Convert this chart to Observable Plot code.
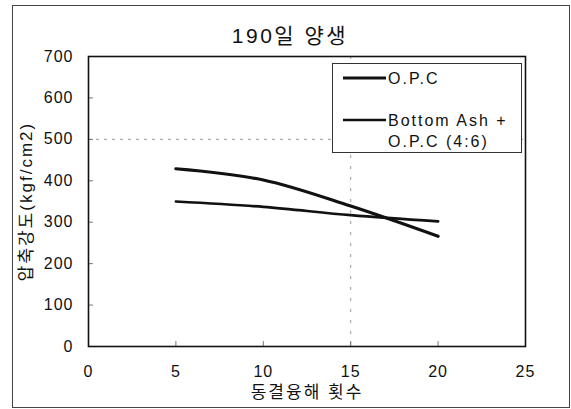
<!DOCTYPE html>
<html>
<head>
<meta charset="utf-8">
<script src="https://cdn.jsdelivr.net/npm/d3@7"></script>
<script src="https://cdn.jsdelivr.net/npm/@observablehq/plot@0.6"></script>
<style>
  html, body { margin: 0; padding: 0; background: #fff; }
  #wrap { position: relative; width: 571px; height: 409px; overflow: hidden;
          font-family: "Liberation Sans", "Noto Sans CJK KR", Arial, sans-serif; }
  #outer { position: absolute; left: 12px; top: 5px; width: 556px; height: 401px;
           border: 1px solid #444; pointer-events: none; }
  #legend { position: absolute; left: 332px; top: 63px; width: 188px; height: 88px;
            border: 1px solid #333; background: #fff; font-size: 16px; letter-spacing: 2px; color: #111; }
  .entry { position: absolute; left: 10px; display: flex; align-items: flex-start; }
  .entry svg { flex: none; margin-right: 2px; }
  svg text { letter-spacing: 1px; }
</style>
</head>
<body>
<div id="wrap">
  <div id="outer"></div>
</div>
<script>
const chartTitle = "190일 양생";
const xLabel = "동결융해 횟수";
const yLabel = "압축강도(kgf/cm2)";
const seriesNames = ["O.P.C", "Bottom Ash + O.P.C (4:6)"];
const legendLines = [["O.P.C"], ["Bottom Ash +", "O.P.C (4:6)"]];
const cycles = [5, 10, 15, 20];
const opcValues = [429, 402, 339, 266];
const bottomAshValues = [350, 337, 317, 302];
const seriesWidths = [3.2, 2.7];
const xTicks = [0, 5, 10, 15, 20, 25];
const yTicks = [0, 100, 200, 300, 400, 500, 600, 700];
const gridX = [15];
const gridY = [500];

const rows = [
  ...cycles.map((c, i) => ({series: seriesNames[0], x: c, y: opcValues[i]})),
  ...cycles.map((c, i) => ({series: seriesNames[1], x: c, y: bottomAshValues[i]}))
];

const chart = Plot.plot({
  width: 571,
  height: 409,
  marginTop: 56,
  marginBottom: 63,
  marginLeft: 88,
  marginRight: 46,
  style: {fontFamily: '"Liberation Sans", "Noto Sans CJK KR", Arial, sans-serif', fontSize: "16px", color: "#111", background: "transparent"},
  x: {domain: [0, 25], ticks: xTicks},
  y: {domain: [0, 700], ticks: yTicks},
  marks: [
    Plot.ruleY(gridY, {stroke: "#999", strokeDasharray: "3,5", strokeWidth: 1}),
    Plot.ruleX(gridX, {stroke: "#999", strokeDasharray: "3,8", strokeWidth: 1}),
    Plot.axisY({ticks: yTicks, tickSize: 0, tickPadding: 15, label: null, fontSize: 16}),
    Plot.axisY({ticks: yTicks, tickSize: 5, text: null, label: null, dx: 5, stroke: "#777"}),
    Plot.axisX({ticks: xTicks, tickSize: 0, tickPadding: 19, label: null, fontSize: 16}),
    Plot.axisX({ticks: xTicks, tickSize: 5, text: null, label: null, dy: -5, stroke: "#777"}),
    Plot.frame({stroke: "#111", strokeWidth: 1.6}),
    Plot.line(rows.filter(d => d.series === seriesNames[1]), {x: "x", y: "y", stroke: "#111", strokeWidth: seriesWidths[1], curve: "catmull-rom"}),
    Plot.line(rows.filter(d => d.series === seriesNames[0]), {x: "x", y: "y", stroke: "#111", strokeWidth: seriesWidths[0], curve: "catmull-rom"}),
    Plot.text([chartTitle], {text: d => d, frameAnchor: "top", dy: -28, dx: -17, fontSize: 21, fill: "#111"}),
    Plot.text([xLabel], {text: d => d, frameAnchor: "bottom", dy: 51, fontSize: 17, fill: "#111"}),
    Plot.text([yLabel], {text: d => d, frameAnchor: "left", textAnchor: "middle", rotate: -90, dx: -62, fontSize: 17, fill: "#111"})
  ]
});

// title/label letter spacing
d3.select(chart).selectAll("text").filter(function() { return this.textContent === chartTitle; }).style("letter-spacing", "2.5px");
d3.select(chart).selectAll("text").filter(function() { return this.textContent === xLabel || this.textContent === yLabel; }).style("letter-spacing", "2px");

const wrap = document.getElementById("wrap");
wrap.insertBefore(chart, wrap.firstChild);

// legend
const legend = document.createElement("div");
legend.id = "legend";
const entryTops = [5, 47];
legendLines.forEach((lines, i) => {
  const e = document.createElement("div");
  e.className = "entry";
  e.style.top = entryTops[i] + "px";
  const sw = seriesWidths[i];
  e.innerHTML = `<svg width="43" height="18"><line x1="0" x2="43" y1="9" y2="9" stroke="#111" stroke-width="${sw}"/></svg>` +
    `<div style="line-height:21px;margin-top:-1.5px">${lines.join("<br>")}</div>`;
  legend.appendChild(e);
});
wrap.appendChild(legend);
</script>
</body>
</html>
